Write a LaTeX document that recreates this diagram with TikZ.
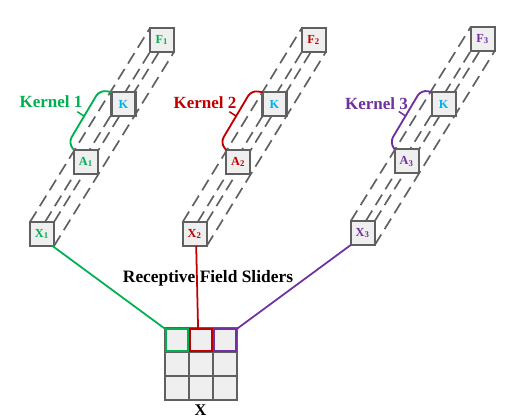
\documentclass[tikz,border=0pt]{standalone}
\usepackage{fontspec}
\setmainfont{Liberation Serif}
\usetikzlibrary{backgrounds}

\definecolor{kgreen}{HTML}{00B050}
\definecolor{kred}{HTML}{C00000}
\definecolor{kpurple}{HTML}{7030A0}
\definecolor{kblue}{HTML}{00B0F0}
\definecolor{boxgray}{HTML}{606060}
\definecolor{boxfill}{HTML}{EFEFEF}

\tikzset{
  cellbox/.style={draw=boxgray, fill=boxfill, line width=1.15pt, minimum size=0.48cm,
    inner sep=0pt, outer sep=0pt, font=\fontsize{7}{8}\selectfont\bfseries},
  slider/.style={draw=#1, line width=1.2pt, minimum size=0.44cm, inner sep=0pt, outer sep=0pt},
  tube/.style={boxgray, line width=0.95pt, dash pattern=on 7pt off 3.6pt},
  brace/.style={#1, line width=1.05pt, rounded corners=0.13cm},
  tick/.style={#1, line width=0.85pt},
  link/.style={#1, line width=1pt},
  kernellabel/.style={text=#1, font=\fontsize{9.7}{11}\selectfont\bfseries}
}

\begin{document}
\begin{tikzpicture}
\useasboundingbox (0,0) rectangle (10.32,8.32);

% first kernel
\node[cellbox, text=kgreen] (X1) at (0.84,3.64) {X\textsubscript{1}};
\node[cellbox, text=kgreen] (A1) at (1.72,5.08) {A\textsubscript{1}};
\node[cellbox, text=kblue] (K1) at (2.47,6.24) {K};
\node[cellbox, text=kgreen] (F1) at (3.24,7.52) {F\textsubscript{1}};
\node[kernellabel=kgreen] (L1) at (1.02,6.28) {Kernel 1};

% second kernel
\node[cellbox, text=kred] (X2) at (3.894,3.64) {X\textsubscript{2}};
\node[cellbox, text=kred] (A2) at (4.766,5.08) {A\textsubscript{2}};
\node[cellbox, text=kblue] (K2) at (5.49,6.234) {K};
\node[cellbox, text=kred] (F2) at (6.276,7.52) {F\textsubscript{2}};
\node[kernellabel=kred] (L2) at (4.10,6.26) {Kernel 2};

% third kernel
\node[cellbox, text=kpurple] (X3) at (7.256,3.66) {X\textsubscript{3}};
\node[cellbox, text=kpurple] (A3) at (8.134,5.094) {A\textsubscript{3}};
\node[cellbox, text=kblue] (K3) at (8.874,6.24) {K};
\node[cellbox, text=kpurple] (F3) at (9.654,7.54) {F\textsubscript{3}};
\node[kernellabel=kpurple] (L3) at (7.53,6.25) {Kernel 3};

% dashed tubes go behind the boxes
\begin{scope}[on background layer]
\draw[tube] (X1.north west) -- (F1.north west);
\draw[tube] ([xshift=-0.18cm]X1.north east) -- (F1.south west);
\draw[tube] (X1.north east) -- ([xshift=0.18cm]F1.south west);
\draw[tube] (X1.south east) -- (F1.south east);

\draw[tube] (X2.north west) -- (F2.north west);
\draw[tube] ([xshift=-0.18cm]X2.north east) -- (F2.south west);
\draw[tube] (X2.north east) -- ([xshift=0.18cm]F2.south west);
\draw[tube] (X2.south east) -- (F2.south east);

\draw[tube] (X3.north west) -- (F3.north west);
\draw[tube] ([xshift=-0.18cm]X3.north east) -- (F3.south west);
\draw[tube] (X3.north east) -- ([xshift=0.18cm]F3.south west);
\draw[tube] (X3.south east) -- (F3.south east);
\end{scope}

% kernel braces
\draw[brace=kgreen] (A1.north west) -- (1.366,5.464) -- (1.99,6.514) -- (K1.north west);
\coordinate (T1a) at (1.546,6.086);
\coordinate (T1b) at (1.68,6.0);
\draw[tick=kgreen] (T1a) -- (T1b);

\draw[brace=kred] (A2.north west) -- (4.406,5.464) -- (5.03,6.514) -- (K2.north west);
\coordinate (T2a) at (4.586,6.086);
\coordinate (T2b) at (4.72,6.0);
\draw[tick=kred] (T2a) -- (T2b);

\draw[brace=kpurple] (A3.north west) -- (7.796,5.47) -- (8.42,6.52) -- (K3.north west);
\coordinate (T3a) at (7.976,6.09);
\coordinate (T3b) at (8.11,6.0);
\draw[tick=kpurple] (T3a) -- (T3b);

% input grid
\node[cellbox] (G11) at (3.534,1.514) {};
\node[cellbox] (G12) at (4.022,1.514) {};
\node[cellbox] (G13) at (4.506,1.514) {};
\node[cellbox] (G21) at (3.534,1.034) {};
\node[cellbox] (G22) at (4.022,1.034) {};
\node[cellbox] (G23) at (4.506,1.034) {};
\node[cellbox] (G31) at (3.534,0.556) {};
\node[cellbox] (G32) at (4.022,0.556) {};
\node[cellbox] (G33) at (4.506,0.556) {};

% sliders on the top row
\node[slider=kgreen] (S1) at (G11) {};
\node[slider=kred] (S2) at (G12) {};
\node[slider=kpurple] (S3) at (G13) {};

% links to the grid
\draw[link=kgreen] ([xshift=-0.03cm]X1.south east) -- (S1.north west);
\draw[link=kred] ([xshift=0.03cm]X2.south) -- ([xshift=-0.06cm]S2.north);
\draw[link=kpurple] (X3.south west) -- (S3.north east);

\node[font=\fontsize{9.9}{11}\selectfont\bfseries] (R) at (4.16,2.76) {Receptive Field Sliders};
\node[font=\fontsize{9.3}{10}\selectfont\bfseries] (XL) at (4.01,0.125) {X};

\end{tikzpicture}
\end{document}
